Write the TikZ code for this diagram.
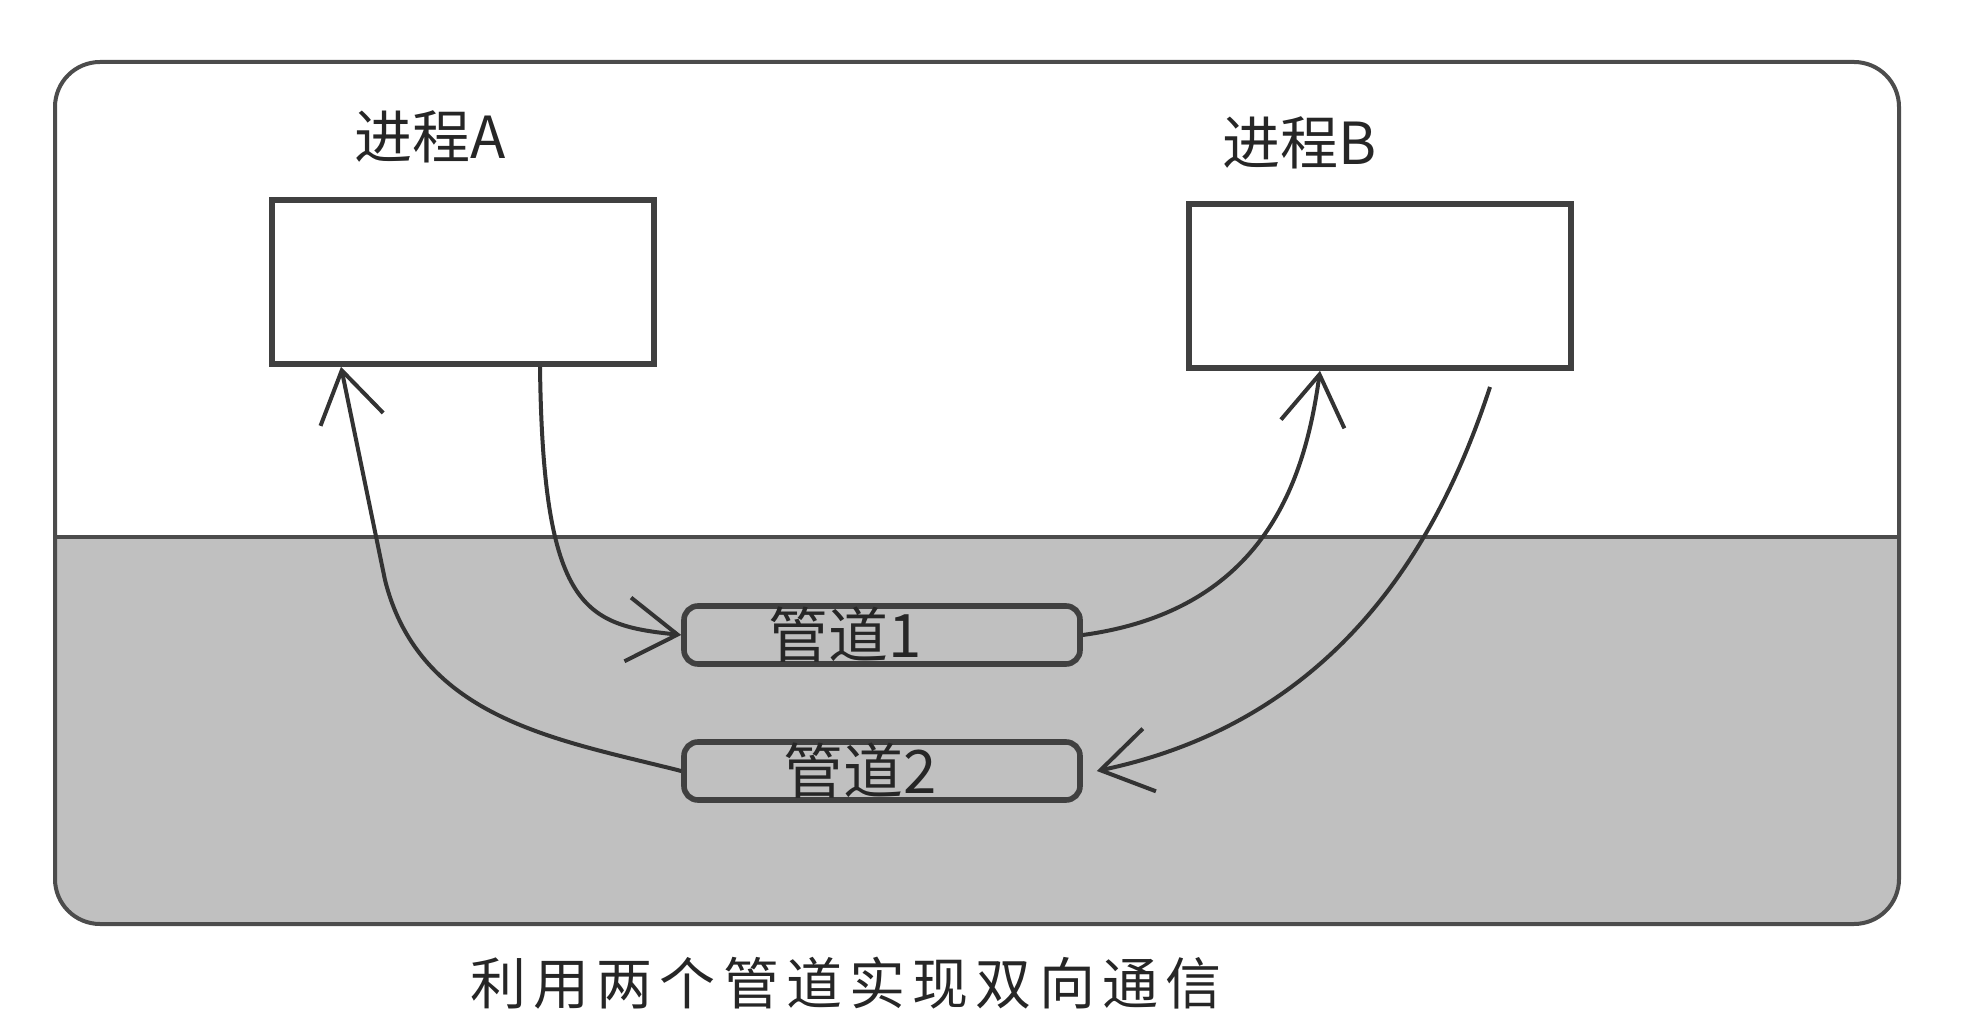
\documentclass[tikz,border=0pt]{standalone}
\usepackage{fontspec}
\setmainfont{Noto Sans CJK SC}
\usetikzlibrary{arrows.meta}
\definecolor{pipegray}{RGB}{192,192,192}
\newcommand\cgap{\hspace{3.6pt}}
\begin{document}
\begin{tikzpicture}[x=0.5pt,y=-0.5pt,
  procbox/.style={draw=black!75, line width=2.8pt, fill=white, minimum width=191pt, minimum height=82pt, inner sep=0pt},
  pipebox/.style={draw=black!75, line width=2.8pt, rounded corners=7pt, fill=pipegray, minimum width=198pt, minimum height=29pt, inner sep=0pt, text=black!85, font=\fontsize{30pt}{32pt}\selectfont},
  flow/.style={draw=black!80, line width=2pt, -{Straight Barb[length=25pt,width=32pt,line width=2pt]}},
  lbl/.style={font=\fontsize{29pt}{31pt}\selectfont, text=black!85, inner sep=0pt},
]
\useasboundingbox (0,0) rectangle (1964,1036);
% outer frame with grey lower half
\begin{scope}
  \clip[rounded corners=22.5pt] (55,62) rectangle (1899,924);
  \fill[pipegray] (55,537) rectangle (1899,924);
\end{scope}
\draw[black!70, line width=2pt, rounded corners=22.5pt] (55,62) rectangle (1899,924);
\draw[black!70, line width=2pt] (55,537) -- (1899,537);

% processes
\node[procbox] (procA) at (463,282) {};
\node[procbox] (procB) at (1380,286) {};
\node[lbl] (labA) at (430,137) {进程A};
\node[lbl] (labB) at (1300,143) {进程B};

% pipes
\node[pipebox] (pipe1) at (882,635) {管道1\rule{37pt}{0pt}};
\node[pipebox] (pipe2) at (882,771) {管道2\rule{22pt}{0pt}};

% caption
\node[lbl, font=\fontsize{28pt}{30pt}\selectfont] (caption) at (846,983)
  {利\cgap 用\cgap 两\cgap 个\cgap 管\cgap 道\cgap 实\cgap 现\cgap 双\cgap 向\cgap 通\cgap 信};

% connectors
\coordinate (bstart) at (1490,387);
\draw[flow] ([xshift=38.5pt]procA.south) .. controls (543,610) and (585,625) .. (pipe1.west);
\draw[flow] (pipe1.east) .. controls (1265,610) and (1305,480) .. ([xshift=-30pt]procB.south);
\draw[flow] (bstart) .. controls (1440,540) and (1340,720) .. ([xshift=7pt]pipe2.east);
\draw[flow] (pipe2.west) .. controls (560,740) and (420,720) .. (385,580) -- ([xshift=-61pt]procA.south);
\end{tikzpicture}
\end{document}
